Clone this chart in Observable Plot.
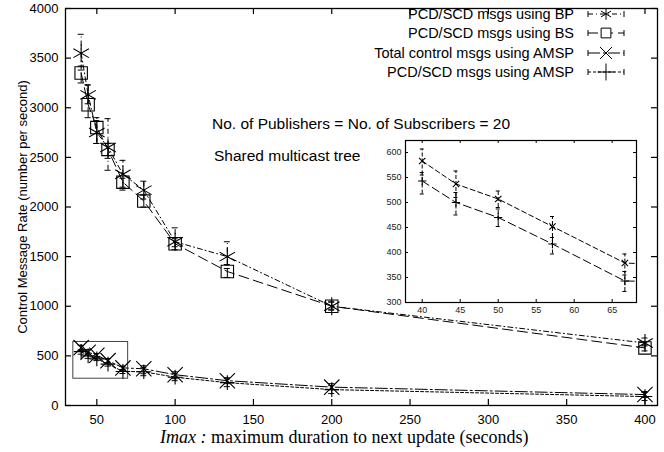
<!DOCTYPE html>
<html><head><meta charset="utf-8">
<script src="https://cdn.jsdelivr.net/npm/d3@7"></script>
<script src="https://cdn.jsdelivr.net/npm/@observablehq/plot@0.6"></script>
<style>
body{margin:0;background:#fff;}
#wrap{position:relative;width:664px;height:452px;font-family:"Liberation Sans",Arial,sans-serif;color:#000;}
#wrap > *{position:absolute;}
.note{font-size:15.5px;white-space:nowrap;}
</style></head><body><div id="wrap"></div>
<script>
// ---- data ----
const imax = [40, 44.44, 50, 57.14, 66.67, 80, 100, 133.33, 200, 400];
const bpRate = [3550, 3130, 2750, 2600, 2330, 2170, 1650, 1500, 1000, 630];
const bpLow  = [3380, 3040, 2640, 2370, 2200, 2080, 1600, 1420, 970, 600];
const bpHigh = [3740, 3230, 2900, 2890, 2470, 2260, 1790, 1650, 1050, 680];
const bsRate = [3350, 3030, 2800, 2580, 2250, 2060, 1630, 1350, 1000, 580];
const bsLow  = [3250, 2900, 2640, 2490, 2170, 2000, 1570, 1290, 960, 550];
const bsHigh = [3420, 3230, 2870, 2640, 2290, 2120, 1680, 1380, 1040, 610];
const totRate = [583, 537, 507, 452, 379, 370, 310, 250, 185, 110];
const totLow  = [555, 510, 490, 430, 355, 320, 270, 220, 160, 80];
const totHigh = [607, 563, 523, 472, 397, 400, 340, 280, 220, 140];
const pcdRate = [543, 500, 470, 417, 343, 340, 285, 230, 160, 90];
const pcdLow  = [517, 475, 452, 397, 322, 300, 250, 190, 120, 50];
const pcdHigh = [560, 520, 487, 430, 362, 380, 320, 270, 200, 130];
const seriesNames = ["PCD/SCD msgs using BP", "PCD/SCD msgs using BS", "Total control msgs using AMSP", "PCD/SCD msgs using AMSP"];
const yTicks = [0, 500, 1000, 1500, 2000, 2500, 3000, 3500, 4000];
const xTicks = [50, 100, 150, 200, 250, 300, 350, 400];
const insetXTicks = [40, 45, 50, 55, 60, 65];
const insetYTicks = [300, 350, 400, 450, 500, 550, 600];
const zoomBox = [{x1: 35, x2: 70, y1: 270, y2: 640}];
const annotation1 = "No. of Publishers = No. of Subscribers = 20";
const annotation2 = "Shared multicast tree";

// ---- styles ----
const styles = [
  {symbol: "asterisk", r: 8.5, ir: 3, dash: "5,3,1,3", idash: "5,3"},
  {symbol: "square", r: 7, ir: 3, dash: "10,5", idash: "8,4"},
  {symbol: "times", r: 7, ir: 3, dash: "12,3,2,3", idash: "5,3"},
  {symbol: "plus", r: 4.8, ir: 2.8, dash: "3,2", idash: "8,4"}
];
const raw = [[bpRate, bpLow, bpHigh], [bsRate, bsLow, bsHigh], [totRate, totLow, totHigh], [pcdRate, pcdLow, pcdHigh]];
const series = raw.map(([v, lo, hi], i) => imax.map((x, j) => ({s: seriesNames[i], x, y: v[j], lo: lo[j], hi: hi[j]})));

const wrap = document.getElementById("wrap");
const fmt = d3.format("d");

function seriesMarks(data, st, inset) {
  const dash = inset ? st.idash : st.dash;
  const r = inset ? st.ir : st.r;
  const cap = inset ? 2 : 3;
  return [
    Plot.line(data, {x: "x", y: "y", stroke: "#000", strokeWidth: 1, strokeDasharray: dash, clip: inset}),
    Plot.ruleX(data, {x: "x", y1: "lo", y2: "hi", stroke: "#000", strokeWidth: 1, strokeDasharray: inset ? "4,2" : dash, clip: inset}),
    Plot.ruleY(data, {y: "lo", x1: "x", x2: "x", insetLeft: -cap, insetRight: -cap, stroke: "#000", clip: inset}),
    Plot.ruleY(data, {y: "hi", x1: "x", x2: "x", insetLeft: -cap, insetRight: -cap, stroke: "#000", clip: inset}),
    Plot.dot(data, {x: "x", y: "y", symbol: () => st.symbol, r, stroke: "#000", fill: "none", strokeWidth: 1.1, clip: inset})
  ];
}

// inward tick marks on all four sides
function innerTicks(xt, yt, fw, fh, len, w) {
  return [
    Plot.tickY(yt, {y: d => d, insetRight: fw - len, stroke: "#000", strokeWidth: w}),
    Plot.tickY(yt, {y: d => d, insetLeft: fw - len, stroke: "#000", strokeWidth: w}),
    Plot.tickX(xt, {x: d => d, insetTop: fh - len, stroke: "#000", strokeWidth: w}),
    Plot.tickX(xt, {x: d => d, insetBottom: fh - len, stroke: "#000", strokeWidth: w})
  ];
}

const W = 664, H = 452, ML = 65, MR = 7, MT = 8, MB = 47;
const main = Plot.plot({
  width: W, height: H,
  marginLeft: ML, marginRight: MR, marginTop: MT, marginBottom: MB,
  style: {fontFamily: "'Liberation Sans', Arial, sans-serif", fontSize: "13px", color: "#000", background: "transparent"},
  x: {domain: [30, 408]},
  y: {domain: [0, 4000]},
  marks: [
    Plot.axisY(yTicks, {anchor: "left", tickSize: 0, tickPadding: 7, tickFormat: fmt, label: "Control Message Rate (number per second)", labelAnchor: "center", labelArrow: "none", labelOffset: 48, fontSize: 13}),
    Plot.axisX(xTicks, {anchor: "bottom", tickSize: 0, tickPadding: 9, tickFormat: fmt, label: null, fontSize: 13}),
    ...innerTicks(xTicks, yTicks, W - ML - MR, H - MT - MB, 6, 1.2),
    Plot.frame({stroke: "#000", strokeWidth: 1.3}),
    Plot.rect(zoomBox, {x1: "x1", x2: "x2", y1: "y1", y2: "y2", fill: "none", stroke: "#444", strokeWidth: 1}),
    ...series.flatMap((d, i) => seriesMarks(d, styles[i], false))
  ]
});
main.style.left = "0px"; main.style.top = "0px";
wrap.appendChild(main);

const IW = 290, IH = 190, IML = 35, IMR = 24, IMT = 8, IMB = 20;
const insetData = series.slice(2);
const inset = Plot.plot({
  width: IW, height: IH,
  marginLeft: IML, marginRight: IMR, marginTop: IMT, marginBottom: IMB,
  style: {fontFamily: "'Liberation Sans', Arial, sans-serif", fontSize: "9px", color: "#222", background: "transparent"},
  x: {domain: [37.8, 68.2]},
  y: {domain: [300, 624]},
  marks: [
    Plot.axisY(insetYTicks, {anchor: "left", tickSize: 0, tickPadding: 4, label: null, fontSize: 9}),
    Plot.axisX(insetXTicks, {anchor: "bottom", tickSize: 0, tickPadding: 4, label: null, fontSize: 9}),
    ...innerTicks(insetXTicks, insetYTicks, IW - IML - IMR, IH - IMT - IMB, 3, 1),
    Plot.frame({stroke: "#000", strokeWidth: 1.2}),
    ...insetData.flatMap((d, i) => seriesMarks(d, styles[i + 2], true))
  ]
});
inset.style.left = "370px"; inset.style.top = "132px";
wrap.appendChild(inset);

// legend
const leg = d3.create("svg").attr("width", 664).attr("height", 90).style("left", "0px").style("top", "0px");
const legRowsY = [14, 33, 53, 72];
seriesNames.forEach((name, i) => {
  const y = legRowsY[i], st = styles[i];
  leg.append("text").attr("x", 574).attr("y", y).attr("dy", "0.35em").attr("text-anchor", "end")
    .attr("font-family", "'Liberation Sans', Arial, sans-serif").attr("font-size", 14.5).text(name);
  leg.append("line").attr("x1", 588).attr("x2", 624).attr("y1", y).attr("y2", y).attr("stroke", "#000").attr("stroke-dasharray", st.dash === "none" ? null : st.dash);
  [588, 624].forEach(x => leg.append("line").attr("x1", x).attr("x2", x).attr("y1", y - 3).attr("y2", y + 3).attr("stroke", "#000"));
  leg.append("path").attr("transform", `translate(606,${y})`).attr("fill", "#fff").attr("stroke", "#000")
    .attr("d", d3.symbol(d3["symbol" + st.symbol[0].toUpperCase() + st.symbol.slice(1)], Math.PI * 5.5 * 5.5)());
});
wrap.appendChild(leg.node());

function addNote(text, left, top, cls) {
  const d = document.createElement("div");
  d.className = cls; d.textContent = text;
  d.style.left = left + "px"; d.style.top = top + "px";
  wrap.appendChild(d);
}
addNote(annotation1, 212, 115, "note");
addNote(annotation2, 214, 147, "note");

const xl = document.createElement("div");
xl.style.left = "160px"; xl.style.top = "427px";
xl.style.fontFamily = "'Liberation Serif', 'Times New Roman', serif";
xl.style.fontSize = "18px"; xl.style.whiteSpace = "nowrap";
xl.innerHTML = "<i>Imax :</i> maximum duration to next update (seconds)";
wrap.appendChild(xl);
</script>
</body></html>
